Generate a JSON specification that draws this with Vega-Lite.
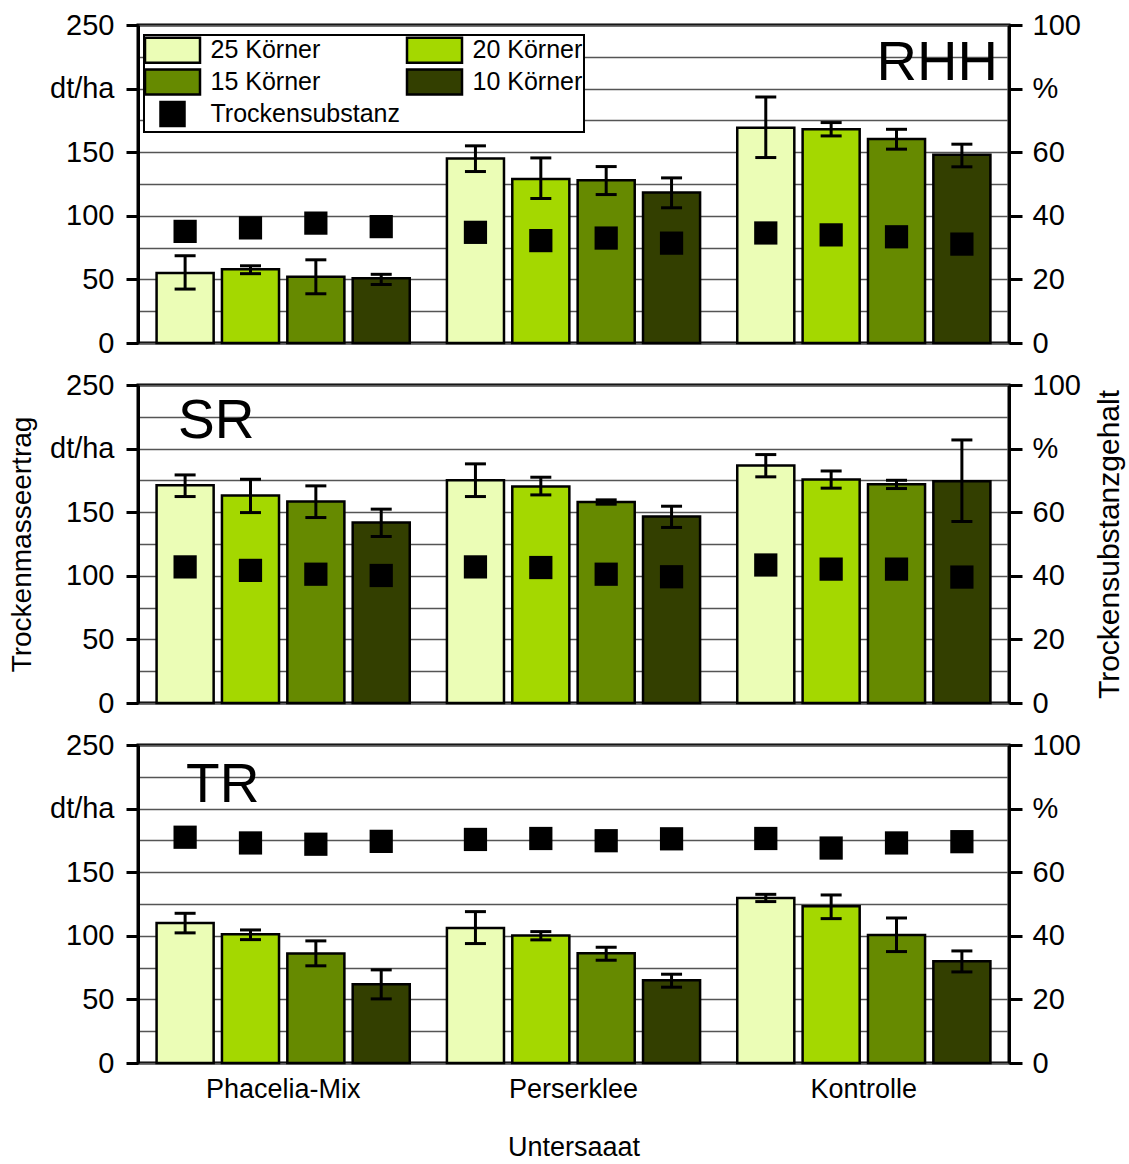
{
  "$schema": "https://vega.github.io/schema/vega-lite/v6.json",
  "padding": {"left": 7, "top": 9, "right": 0, "bottom": 0},
  "data": {"values": [
    {"Standort": "RHH", "Untersaat": "Phacelia-Mix", "Koerner": "25 Körner", "Ertrag": 55, "Ertrag_unten": 42.4, "Ertrag_oben": 68.6, "TS": 35.1},
    {"Standort": "RHH", "Untersaat": "Phacelia-Mix", "Koerner": "20 Körner", "Ertrag": 58, "Ertrag_unten": 54.5, "Ertrag_oben": 60.7, "TS": 36.2},
    {"Standort": "RHH", "Untersaat": "Phacelia-Mix", "Koerner": "15 Körner", "Ertrag": 52, "Ertrag_unten": 38.7, "Ertrag_oben": 65.4, "TS": 37.7},
    {"Standort": "RHH", "Untersaat": "Phacelia-Mix", "Koerner": "10 Körner", "Ertrag": 51, "Ertrag_unten": 46, "Ertrag_oben": 54, "TS": 36.6},
    {"Standort": "RHH", "Untersaat": "Perserklee", "Koerner": "25 Körner", "Ertrag": 145, "Ertrag_unten": 134.8, "Ertrag_oben": 155, "TS": 34.8},
    {"Standort": "RHH", "Untersaat": "Perserklee", "Koerner": "20 Körner", "Ertrag": 129, "Ertrag_unten": 113.6, "Ertrag_oben": 145.5, "TS": 32.2},
    {"Standort": "RHH", "Untersaat": "Perserklee", "Koerner": "15 Körner", "Ertrag": 128, "Ertrag_unten": 116.7, "Ertrag_oben": 138.7, "TS": 33.0},
    {"Standort": "RHH", "Untersaat": "Perserklee", "Koerner": "10 Körner", "Ertrag": 118.3, "Ertrag_unten": 106.3, "Ertrag_oben": 129.8, "TS": 31.4},
    {"Standort": "RHH", "Untersaat": "Kontrolle", "Koerner": "25 Körner", "Ertrag": 169.3, "Ertrag_unten": 145.8, "Ertrag_oben": 193.4, "TS": 34.6},
    {"Standort": "RHH", "Untersaat": "Kontrolle", "Koerner": "20 Körner", "Ertrag": 168, "Ertrag_unten": 162.8, "Ertrag_oben": 173.3, "TS": 34.0},
    {"Standort": "RHH", "Untersaat": "Kontrolle", "Koerner": "15 Körner", "Ertrag": 160.4, "Ertrag_unten": 152.4, "Ertrag_oben": 168, "TS": 33.4},
    {"Standort": "RHH", "Untersaat": "Kontrolle", "Koerner": "10 Körner", "Ertrag": 148, "Ertrag_unten": 138.5, "Ertrag_oben": 156.3, "TS": 31.1},
    {"Standort": "SR", "Untersaat": "Phacelia-Mix", "Koerner": "25 Körner", "Ertrag": 171.2, "Ertrag_unten": 162.3, "Ertrag_oben": 179.3, "TS": 42.8},
    {"Standort": "SR", "Untersaat": "Phacelia-Mix", "Koerner": "20 Körner", "Ertrag": 163.1, "Ertrag_unten": 149.7, "Ertrag_oben": 175.9, "TS": 41.7},
    {"Standort": "SR", "Untersaat": "Phacelia-Mix", "Koerner": "15 Körner", "Ertrag": 158.4, "Ertrag_unten": 145.8, "Ertrag_oben": 170.7, "TS": 40.5},
    {"Standort": "SR", "Untersaat": "Phacelia-Mix", "Koerner": "10 Körner", "Ertrag": 141.9, "Ertrag_unten": 130.9, "Ertrag_oben": 152.4, "TS": 40.1},
    {"Standort": "SR", "Untersaat": "Perserklee", "Koerner": "25 Körner", "Ertrag": 175.1, "Ertrag_unten": 162.3, "Ertrag_oben": 188, "TS": 42.8},
    {"Standort": "SR", "Untersaat": "Perserklee", "Koerner": "20 Körner", "Ertrag": 170.2, "Ertrag_unten": 163.6, "Ertrag_oben": 177.5, "TS": 42.6},
    {"Standort": "SR", "Untersaat": "Perserklee", "Koerner": "15 Körner", "Ertrag": 158.1, "Ertrag_unten": 156.3, "Ertrag_oben": 159.7, "TS": 40.5},
    {"Standort": "SR", "Untersaat": "Perserklee", "Koerner": "10 Körner", "Ertrag": 146.6, "Ertrag_unten": 138, "Ertrag_oben": 154.7, "TS": 39.7},
    {"Standort": "SR", "Untersaat": "Kontrolle", "Koerner": "25 Körner", "Ertrag": 186.7, "Ertrag_unten": 177.8, "Ertrag_oben": 195.3, "TS": 43.4},
    {"Standort": "SR", "Untersaat": "Kontrolle", "Koerner": "20 Körner", "Ertrag": 175.7, "Ertrag_unten": 168.9, "Ertrag_oben": 182.4, "TS": 42.1},
    {"Standort": "SR", "Untersaat": "Kontrolle", "Koerner": "15 Körner", "Ertrag": 172, "Ertrag_unten": 168.6, "Ertrag_oben": 175.1, "TS": 42.1},
    {"Standort": "SR", "Untersaat": "Kontrolle", "Koerner": "10 Körner", "Ertrag": 174.3, "Ertrag_unten": 142.7, "Ertrag_oben": 206.8, "TS": 39.6},
    {"Standort": "TR", "Untersaat": "Phacelia-Mix", "Koerner": "25 Körner", "Ertrag": 110.1, "Ertrag_unten": 102.3, "Ertrag_oben": 117.7, "TS": 71.0},
    {"Standort": "TR", "Untersaat": "Phacelia-Mix", "Koerner": "20 Körner", "Ertrag": 101.2, "Ertrag_unten": 97, "Ertrag_oben": 104.6, "TS": 69.2},
    {"Standort": "TR", "Untersaat": "Phacelia-Mix", "Koerner": "15 Körner", "Ertrag": 86, "Ertrag_unten": 76.4, "Ertrag_oben": 96, "TS": 68.8},
    {"Standort": "TR", "Untersaat": "Phacelia-Mix", "Koerner": "10 Körner", "Ertrag": 61.9, "Ertrag_unten": 50.4, "Ertrag_oben": 73.2, "TS": 69.7},
    {"Standort": "TR", "Untersaat": "Perserklee", "Koerner": "25 Körner", "Ertrag": 106.2, "Ertrag_unten": 93.9, "Ertrag_oben": 119, "TS": 70.3},
    {"Standort": "TR", "Untersaat": "Perserklee", "Koerner": "20 Körner", "Ertrag": 100.2, "Ertrag_unten": 96.8, "Ertrag_oben": 103.3, "TS": 70.6},
    {"Standort": "TR", "Untersaat": "Perserklee", "Koerner": "15 Körner", "Ertrag": 86.3, "Ertrag_unten": 80.8, "Ertrag_oben": 91, "TS": 69.9},
    {"Standort": "TR", "Untersaat": "Perserklee", "Koerner": "10 Körner", "Ertrag": 65, "Ertrag_unten": 59.6, "Ertrag_oben": 69.8, "TS": 70.5},
    {"Standort": "TR", "Untersaat": "Kontrolle", "Koerner": "25 Körner", "Ertrag": 129.8, "Ertrag_unten": 126.9, "Ertrag_oben": 132.6, "TS": 70.6},
    {"Standort": "TR", "Untersaat": "Kontrolle", "Koerner": "20 Körner", "Ertrag": 123.2, "Ertrag_unten": 113.5, "Ertrag_oben": 132.1, "TS": 67.6},
    {"Standort": "TR", "Untersaat": "Kontrolle", "Koerner": "15 Körner", "Ertrag": 100.7, "Ertrag_unten": 87.6, "Ertrag_oben": 114, "TS": 69.2},
    {"Standort": "TR", "Untersaat": "Kontrolle", "Koerner": "10 Körner", "Ertrag": 80, "Ertrag_unten": 71.6, "Ertrag_oben": 88.1, "TS": 69.6}
  ]},
  "spacing": 9,
  "resolve": {"scale": {"color": "independent"}},
  "vconcat": [
    {
      "width": 871, "height": 318,
      "transform": [{"filter": "datum.Standort === 'RHH'"}],
      "encoding": {
        "x": {"field": "Untersaat", "type": "nominal", "sort": ["Phacelia-Mix", "Perserklee", "Kontrolle"], "scale": {"paddingInner": 0.128, "paddingOuter": 0.064}, "axis": null},
        "xOffset": {"field": "Koerner", "type": "nominal", "sort": ["25 Körner", "20 Körner", "15 Körner", "10 Körner"], "scale": {"paddingInner": 0.127, "paddingOuter": 0}}
      },
      "layer": [
        {
          "layer": [
            {
              "mark": {"type": "bar", "stroke": "black", "strokeWidth": 2.5},
              "encoding": {
                "y": {"field": "Ertrag", "type": "quantitative", "scale": {"domain": [0, 250], "nice": false},
                  "axis": {"title": null, "values": [0, 50, 100, 150, 200, 250], "labelExpr": "datum.value === 200 ? 'dt/ha' : datum.label", "labelOverlap": false, "grid": false, "tickSize": 12, "tickWidth": 3, "domainWidth": 3, "labelFontSize": 29, "labelPadding": 12}},
                "color": {"field": "Koerner", "type": "nominal",
                  "scale": {"domain": ["25 Körner", "20 Körner", "15 Körner", "10 Körner", "Trockensubstanz"], "range": ["#ebfdb6", "#a4d800", "#668a00", "#333f00", "#000000"]},
                  "legend": {"title": null, "orient": "none", "legendX": 6, "legendY": 10, "direction": "horizontal", "columns": 2, "labelLimit": 300, "labelFontSize": 25, "labelOffset": 24, "rowPadding": -4, "columnPadding": 2, "padding": 1, "fillColor": "white", "strokeColor": "black", "symbolType": "M-2.2,-1H2.2V1H-2.2Z", "symbolSize": 625, "symbolOffset": 13.5, "symbolStrokeWidth": 2.5, "symbolStrokeColor": "black", "symbolOpacity": 1,
                    "encode": {"legend": {"update": {"strokeWidth": {"value": 2}}}, "symbols": {"update": {"shape": {"signal": "datum.value === 'Trockensubstanz' ? 'square' : 'M-2.2,-1H2.2V1H-2.2Z'"}, "size": {"signal": "datum.value === 'Trockensubstanz' ? 576 : 625"}, "stroke": {"value": "black"}, "strokeWidth": {"value": 2.5}}}}}}
              }
            },
            {
              "mark": {"type": "rule", "strokeWidth": 3, "color": "black"},
              "encoding": {"y": {"field": "Ertrag_unten", "type": "quantitative"}, "y2": {"field": "Ertrag_oben"}}
            },
            {
              "mark": {"type": "tick", "size": 21, "thickness": 3, "color": "black", "opacity": 1},
              "encoding": {"y": {"field": "Ertrag_unten", "type": "quantitative"}}
            },
            {
              "mark": {"type": "tick", "size": 21, "thickness": 3, "color": "black", "opacity": 1},
              "encoding": {"y": {"field": "Ertrag_oben", "type": "quantitative"}}
            },
            {
              "data": {"values": [{"Standort": "RHH"}]},
              "mark": {"type": "text", "fontSize": 56, "align": "right", "baseline": "alphabetic", "dx": 36, "color": "black"},
              "encoding": {"x": {"datum": "Kontrolle"}, "xOffset": {"datum": "10 Körner"}, "y": {"datum": 207}, "text": {"field": "Standort"}}
            }
          ]
        },
        {
          "mark": {"type": "point", "shape": "square", "size": 540, "filled": true, "opacity": 1},
          "encoding": {
            "y": {"field": "TS", "type": "quantitative", "scale": {"domain": [0, 100], "nice": false},
              "axis": {"orient": "right", "title": null, "values": [0, 10, 20, 30, 40, 50, 60, 70, 80, 90, 100], "labelExpr": "datum.value === 80 ? '%' : (datum.value % 20 === 0 ? datum.label : '')", "labelOverlap": false, "grid": true, "gridColor": "#555555", "gridWidth": 1.5, "tickOpacity": {"condition": {"test": "datum.value % 20 === 0", "value": 1}, "value": 0}, "tickSize": 13, "tickWidth": 3, "domainWidth": 3, "labelFontSize": 29, "labelPadding": 10}},
            "color": {"datum": "Trockensubstanz", "type": "nominal",
              "legend": {"title": null, "orient": "none", "legendX": 6, "legendY": 10, "direction": "horizontal", "columns": 2, "labelLimit": 300, "labelFontSize": 25, "labelOffset": 24, "rowPadding": -4, "columnPadding": 2, "padding": 1, "fillColor": "white", "strokeColor": "black", "symbolType": "M-2.2,-1H2.2V1H-2.2Z", "symbolSize": 625, "symbolOffset": 13.5, "symbolStrokeWidth": 2.5, "symbolStrokeColor": "black", "symbolOpacity": 1,
                "encode": {"legend": {"update": {"strokeWidth": {"value": 2}}}, "symbols": {"update": {"shape": {"signal": "datum.value === 'Trockensubstanz' ? 'square' : 'M-2.2,-1H2.2V1H-2.2Z'"}, "size": {"signal": "datum.value === 'Trockensubstanz' ? 576 : 625"}, "stroke": {"value": "black"}, "strokeWidth": {"value": 2.5}}}}}}
          }
        }
      ],
      "resolve": {"scale": {"y": "independent"}}
    },
    {
      "width": 871, "height": 318,
      "transform": [{"filter": "datum.Standort === 'SR'"}],
      "encoding": {
        "x": {"field": "Untersaat", "type": "nominal", "sort": ["Phacelia-Mix", "Perserklee", "Kontrolle"], "scale": {"paddingInner": 0.128, "paddingOuter": 0.064}, "axis": null},
        "xOffset": {"field": "Koerner", "type": "nominal", "sort": ["25 Körner", "20 Körner", "15 Körner", "10 Körner"], "scale": {"paddingInner": 0.127, "paddingOuter": 0}}
      },
      "layer": [
        {
          "layer": [
            {
              "mark": {"type": "bar", "stroke": "black", "strokeWidth": 2.5},
              "encoding": {
                "y": {"field": "Ertrag", "type": "quantitative", "scale": {"domain": [0, 250], "nice": false},
                  "axis": {"title": "Trockenmasseertrag", "titleFontSize": 28, "titlePadding": 13, "values": [0, 50, 100, 150, 200, 250], "labelExpr": "datum.value === 200 ? 'dt/ha' : datum.label", "labelOverlap": false, "grid": false, "tickSize": 12, "tickWidth": 3, "domainWidth": 3, "labelFontSize": 29, "labelPadding": 12}},
                "color": {"field": "Koerner", "type": "nominal",
                  "scale": {"domain": ["25 Körner", "20 Körner", "15 Körner", "10 Körner", "Trockensubstanz"], "range": ["#ebfdb6", "#a4d800", "#668a00", "#333f00", "#000000"]},
                  "legend": null}
              }
            },
            {
              "mark": {"type": "rule", "strokeWidth": 3, "color": "black"},
              "encoding": {"y": {"field": "Ertrag_unten", "type": "quantitative"}, "y2": {"field": "Ertrag_oben"}}
            },
            {
              "mark": {"type": "tick", "size": 21, "thickness": 3, "color": "black", "opacity": 1},
              "encoding": {"y": {"field": "Ertrag_unten", "type": "quantitative"}}
            },
            {
              "mark": {"type": "tick", "size": 21, "thickness": 3, "color": "black", "opacity": 1},
              "encoding": {"y": {"field": "Ertrag_oben", "type": "quantitative"}}
            },
            {
              "data": {"values": [{"Standort": "SR"}]},
              "mark": {"type": "text", "fontSize": 55, "align": "left", "baseline": "alphabetic", "dx": -7, "color": "black"},
              "encoding": {"x": {"datum": "Phacelia-Mix"}, "xOffset": {"datum": "25 Körner"}, "y": {"datum": 208}, "text": {"field": "Standort"}}
            }
          ]
        },
        {
          "mark": {"type": "point", "shape": "square", "size": 540, "filled": true, "opacity": 1},
          "encoding": {
            "y": {"field": "TS", "type": "quantitative", "scale": {"domain": [0, 100], "nice": false},
              "axis": {"orient": "right", "title": "Trockensubstanzgehalt", "titleFontSize": 30, "titleAngle": 270, "titleBaseline": "top", "titlePadding": 14, "values": [0, 10, 20, 30, 40, 50, 60, 70, 80, 90, 100], "labelExpr": "datum.value === 80 ? '%' : (datum.value % 20 === 0 ? datum.label : '')", "labelOverlap": false, "grid": true, "gridColor": "#555555", "gridWidth": 1.5, "tickOpacity": {"condition": {"test": "datum.value % 20 === 0", "value": 1}, "value": 0}, "tickSize": 13, "tickWidth": 3, "domainWidth": 3, "labelFontSize": 29, "labelPadding": 10}},
            "color": {"datum": "Trockensubstanz", "type": "nominal", "legend": null}
          }
        }
      ],
      "resolve": {"scale": {"y": "independent"}}
    },
    {
      "width": 871, "height": 318,
      "transform": [{"filter": "datum.Standort === 'TR'"}],
      "encoding": {
        "x": {"field": "Untersaat", "type": "nominal", "sort": ["Phacelia-Mix", "Perserklee", "Kontrolle"], "scale": {"paddingInner": 0.128, "paddingOuter": 0.064},
          "axis": {"title": "Untersaaat", "titleFontSize": 27, "titlePadding": 32, "labelAngle": 0, "labelFontSize": 27, "labelPadding": 13, "ticks": false, "tickSize": 0, "domain": false}},
        "xOffset": {"field": "Koerner", "type": "nominal", "sort": ["25 Körner", "20 Körner", "15 Körner", "10 Körner"], "scale": {"paddingInner": 0.127, "paddingOuter": 0}}
      },
      "layer": [
        {
          "layer": [
            {
              "mark": {"type": "bar", "stroke": "black", "strokeWidth": 2.5},
              "encoding": {
                "y": {"field": "Ertrag", "type": "quantitative", "scale": {"domain": [0, 250], "nice": false},
                  "axis": {"title": null, "values": [0, 50, 100, 150, 200, 250], "labelExpr": "datum.value === 200 ? 'dt/ha' : datum.label", "labelOverlap": false, "grid": false, "tickSize": 12, "tickWidth": 3, "domainWidth": 3, "labelFontSize": 29, "labelPadding": 12}},
                "color": {"field": "Koerner", "type": "nominal",
                  "scale": {"domain": ["25 Körner", "20 Körner", "15 Körner", "10 Körner", "Trockensubstanz"], "range": ["#ebfdb6", "#a4d800", "#668a00", "#333f00", "#000000"]},
                  "legend": null}
              }
            },
            {
              "mark": {"type": "rule", "strokeWidth": 3, "color": "black"},
              "encoding": {"y": {"field": "Ertrag_unten", "type": "quantitative"}, "y2": {"field": "Ertrag_oben"}}
            },
            {
              "mark": {"type": "tick", "size": 21, "thickness": 3, "color": "black", "opacity": 1},
              "encoding": {"y": {"field": "Ertrag_unten", "type": "quantitative"}}
            },
            {
              "mark": {"type": "tick", "size": 21, "thickness": 3, "color": "black", "opacity": 1},
              "encoding": {"y": {"field": "Ertrag_oben", "type": "quantitative"}}
            },
            {
              "data": {"values": [{"Standort": "TR"}]},
              "mark": {"type": "text", "fontSize": 55, "align": "left", "baseline": "alphabetic", "dx": 1, "color": "black"},
              "encoding": {"x": {"datum": "Phacelia-Mix"}, "xOffset": {"datum": "25 Körner"}, "y": {"datum": 205}, "text": {"field": "Standort"}}
            }
          ]
        },
        {
          "mark": {"type": "point", "shape": "square", "size": 540, "filled": true, "opacity": 1},
          "encoding": {
            "y": {"field": "TS", "type": "quantitative", "scale": {"domain": [0, 100], "nice": false},
              "axis": {"orient": "right", "title": null, "values": [0, 10, 20, 30, 40, 50, 60, 70, 80, 90, 100], "labelExpr": "datum.value === 80 ? '%' : (datum.value % 20 === 0 ? datum.label : '')", "labelOverlap": false, "grid": true, "gridColor": "#555555", "gridWidth": 1.5, "tickOpacity": {"condition": {"test": "datum.value % 20 === 0", "value": 1}, "value": 0}, "tickSize": 13, "tickWidth": 3, "domainWidth": 3, "labelFontSize": 29, "labelPadding": 10}},
            "color": {"datum": "Trockensubstanz", "type": "nominal", "legend": null}
          }
        }
      ],
      "resolve": {"scale": {"y": "independent"}}
    }
  ],
  "config": {
    "font": "Liberation Sans",
    "view": {"stroke": "black", "strokeWidth": 3},
    "axis": {"labelFont": "Liberation Sans", "titleFont": "Liberation Sans", "labelColor": "black", "titleColor": "black", "titleFontWeight": "normal", "domainColor": "black", "tickColor": "black"},
    "legend": {"labelFont": "Liberation Sans", "labelColor": "black"},
    "title": {"font": "Liberation Sans", "fontWeight": "normal", "color": "black"}
  }
}
